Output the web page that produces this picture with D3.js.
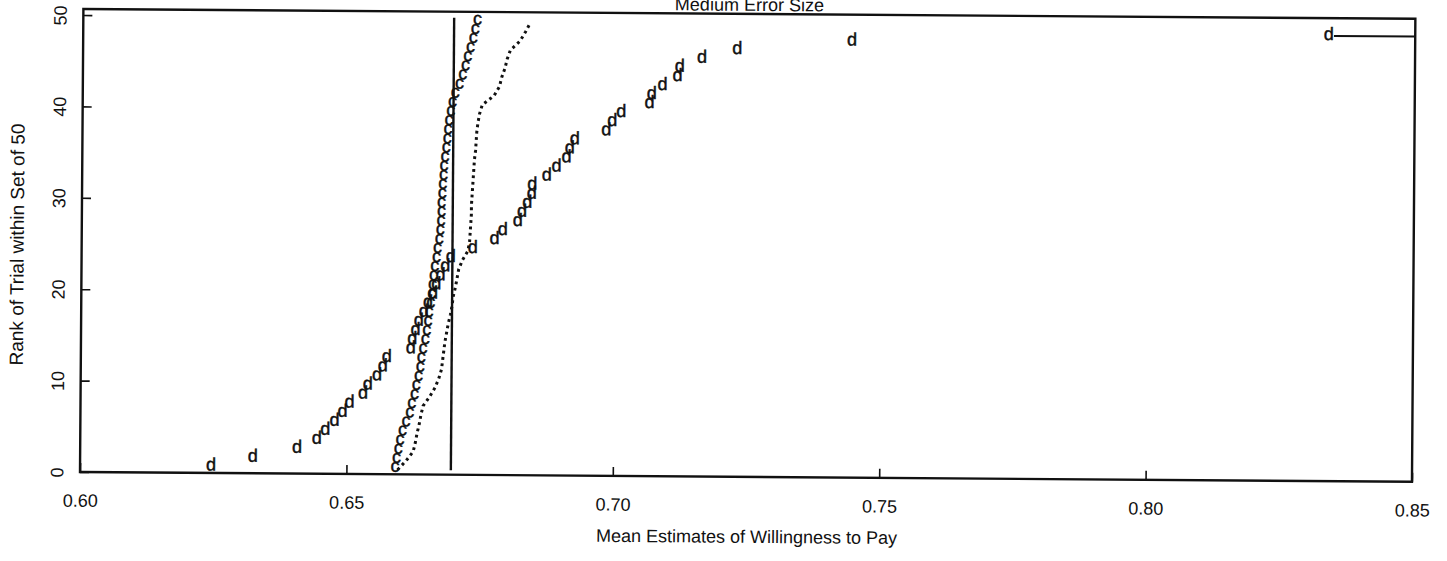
<!DOCTYPE html>
<html>
<head>
<meta charset="utf-8">
<script src="https://cdn.jsdelivr.net/npm/d3@7"></script>
<style>
  html, body { margin: 0; padding: 0; background: #fff; }
  svg { display: block; font-family: "Liberation Sans", Arial, Helvetica, sans-serif; }
</style>
</head>
<body>
<svg id="chart" width="1447" height="561"></svg>
<script>
// Sorted mean WTP estimates, one per trial, ranks 1..50 (estimator "c")
const cValues = [
  0.6591, 0.6594, 0.6597, 0.6600, 0.6605, 0.6611, 0.6618, 0.6622, 0.6627, 0.6630,
  0.6634, 0.6637, 0.6639, 0.6642, 0.6646, 0.6649, 0.6651, 0.6653, 0.6656, 0.6658,
  0.6659, 0.6661, 0.6663, 0.6666, 0.6668, 0.6671, 0.6673, 0.6674, 0.6675, 0.6675,
  0.6676, 0.6677, 0.6678, 0.6679, 0.6681, 0.6683, 0.6685, 0.6686, 0.6688, 0.6691,
  0.6694, 0.6699, 0.6707, 0.6713, 0.6718, 0.6722, 0.6727, 0.6732, 0.6736, 0.6740
];

// Estimator "d", ranks 1..49 (rank 50 lies beyond the axis)
const dValues = [
  0.6246, 0.6324, 0.6407, 0.6444, 0.6460, 0.6477, 0.6492, 0.6505, 0.6530, 0.6539,
  0.6556, 0.6567, 0.6574, 0.6619, 0.6622, 0.6628, 0.6634, 0.6643, 0.6651, 0.6660,
  0.6666, 0.6674, 0.6683, 0.6693, 0.6734, 0.6775, 0.6790, 0.6818, 0.6826, 0.6836,
  0.6844, 0.6845, 0.6872, 0.6890, 0.6909, 0.6915, 0.6924, 0.6983, 0.6994, 0.7011,
  0.7064, 0.7068, 0.7088, 0.7116, 0.7120, 0.7162, 0.7228, 0.7443, 0.8338
];

// Third estimator, drawn as a dotted line through ranks 1..50
const dottedValues = [
  0.6596, 0.6612, 0.6625, 0.6629, 0.6632, 0.6636, 0.6639, 0.6643, 0.6655, 0.6665,
  0.6672, 0.6677, 0.6679, 0.6681, 0.6683, 0.6686, 0.6689, 0.6693, 0.6696, 0.6698,
  0.6702, 0.6705, 0.6708, 0.6715, 0.6725, 0.6728, 0.6729, 0.6730, 0.6731, 0.6731,
  0.6732, 0.6733, 0.6734, 0.6735, 0.6736, 0.6738, 0.6739, 0.6740, 0.6742, 0.6745,
  0.6750, 0.6772, 0.6782, 0.6786, 0.6792, 0.6796, 0.6802, 0.6820, 0.6830, 0.6839
];

// True willingness to pay
const trueValue = 0.6696;

const xTicks = [0.60, 0.65, 0.70, 0.75, 0.80, 0.85];
const yTicks = [0, 10, 20, 30, 40, 50];
const titleText = "Medium Error Size";
const xTitle = "Mean Estimates of Willingness to Pay";
const yTitle = "Rank of Trial within Set of 50";

// ---- layout ----
const plot = { left: 80, right: 1412, top: 9, bottom: 472 };
const tilt = 0.42;            // the printed figure sits slightly rotated
const ink = "#111";

const x = d3.scaleLinear().domain([0.60, 0.85]).range([plot.left, plot.right]);
const y = d3.scaleLinear().domain([0, 50]).range([plot.bottom, 15]);
const pos = rank => rank - 0.5;   // plotting position of a rank

const svg = d3.select("#chart");
const g = svg.append("g")
  .attr("transform", `rotate(${tilt},${plot.left},${plot.bottom})`);

// title (partly above the page edge)
g.append("text")
  .attr("x", 746)
  .attr("y", 6)
  .attr("text-anchor", "middle")
  .attr("font-size", 18)
  .attr("fill", ink)
  .text(titleText);

// axes with inward ticks
const xAxis = d3.axisBottom(x)
  .tickValues(xTicks)
  .tickFormat(d3.format(".2f"))
  .tickSizeInner(-9).tickSizeOuter(0).tickPadding(22);
const gx = g.append("g").attr("transform", `translate(0,${plot.bottom})`).call(xAxis);
gx.select(".domain").remove();
gx.selectAll(".tick line").attr("stroke", ink).attr("stroke-width", 1.6);
gx.selectAll(".tick text")
  .attr("font-size", 18).attr("fill", ink)
  .attr("font-family", "Liberation Sans, Arial, sans-serif");

const yAxis = d3.axisLeft(y)
  .tickValues(yTicks)
  .tickSizeInner(-9).tickSizeOuter(0);
const gy = g.append("g").attr("transform", `translate(${plot.left},0)`).call(yAxis);
gy.select(".domain").remove();
gy.selectAll(".tick line").attr("stroke", ink).attr("stroke-width", 1.6);
gy.selectAll(".tick text")
  .attr("x", null).attr("dy", "0.35em")
  .attr("text-anchor", "middle")
  .attr("transform", "translate(-23,0) rotate(-90)")
  .attr("font-size", 18).attr("fill", ink)
  .attr("font-family", "Liberation Sans, Arial, sans-serif");

// frame
g.append("rect")
  .attr("x", plot.left).attr("y", plot.top)
  .attr("width", plot.right - plot.left)
  .attr("height", plot.bottom - plot.top)
  .attr("fill", "none").attr("stroke", ink).attr("stroke-width", 2.4);

// axis titles
g.append("text")
  .attr("x", 747).attr("y", 538)
  .attr("text-anchor", "middle")
  .attr("font-size", 18).attr("fill", ink)
  .text(xTitle);

g.append("text")
  .attr("transform", "translate(22,245) rotate(-90)")
  .attr("text-anchor", "middle")
  .attr("font-size", 19).attr("fill", ink)
  .text(yTitle);

// true value
g.append("line")
  .attr("x1", x(trueValue)).attr("x2", x(trueValue))
  .attr("y1", y(0.5)).attr("y2", y(50))
  .attr("stroke", ink).attr("stroke-width", 2.4);

// dotted estimator line
const line = d3.line()
  .x(d => x(d))
  .y((d, i) => y(pos(i + 1)));
g.append("path")
  .datum(dottedValues)
  .attr("d", line)
  .attr("fill", "none")
  .attr("stroke", ink)
  .attr("stroke-width", 3)
  .attr("stroke-dasharray", "2.8,3.6");

// character markers
function marks(values, ch) {
  g.append("g")
    .selectAll("text")
    .data(values)
    .join("text")
    .attr("x", d => x(d))
    .attr("y", (d, i) => y(pos(i + 1)))
    .attr("dy", "0.12em")
    .attr("text-anchor", "middle")
    .attr("font-size", 18)
    .attr("fill", ink)
    .attr("stroke", ink)
    .attr("stroke-width", 0.45)
    .text(ch);
}
marks(cValues, "c");
marks(dValues, "d");

// the last plotted d runs off to the right edge
const lastRank = dValues.length;
g.append("line")
  .attr("x1", x(dValues[lastRank - 1]) + 5)
  .attr("x2", x.range()[1])
  .attr("y1", y(pos(lastRank)) - 2)
  .attr("y2", y(pos(lastRank)) - 2)
  .attr("stroke", ink).attr("stroke-width", 2);
</script>
</body>
</html>
